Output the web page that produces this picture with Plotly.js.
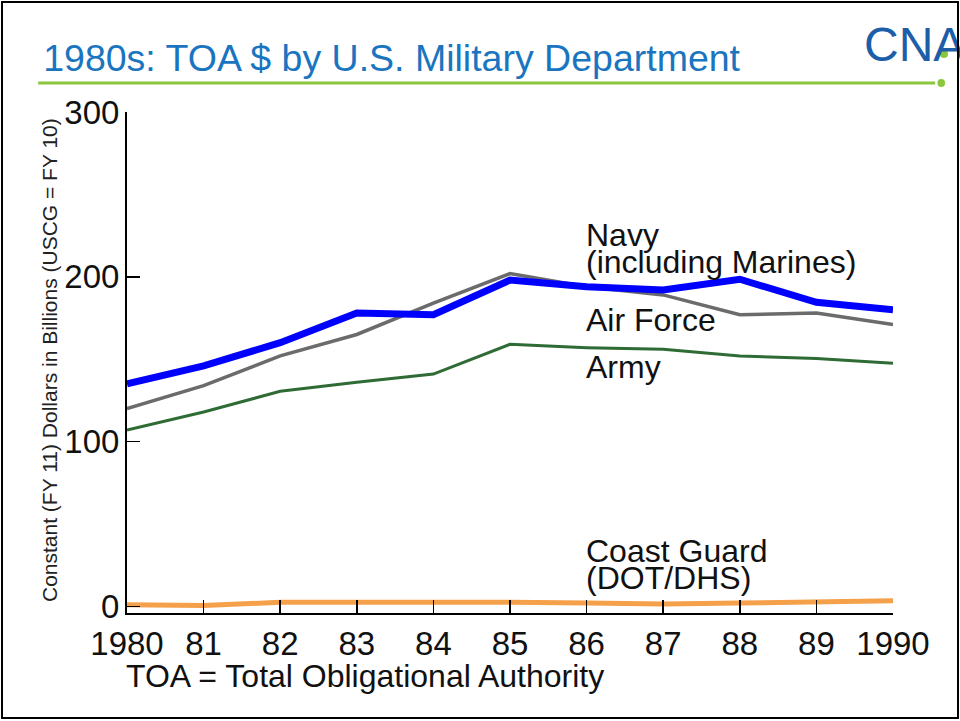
<!DOCTYPE html>
<html>
<head>
<meta charset="utf-8">
<script src="https://cdn.plot.ly/plotly-3.0.1.min.js"></script>
<style>
  body { margin: 0; background: #fff; }
  #chart { position: absolute; left: 0; top: 0; width: 960px; height: 721px; }
  #frame { position: absolute; left: 1px; top: 1px; width: 954px; height: 714px;
           border: 2px solid #000; pointer-events: none; }
</style>
</head>
<body>
<div id="chart"></div>
<div id="frame"></div>
<script>
// Chart data (constant FY11 $ billions)
var years = [1980, 1981, 1982, 1983, 1984, 1985, 1986, 1987, 1988, 1989, 1990];
var year_labels = ["1980", "81", "82", "83", "84", "85", "86", "87", "88", "89", "1990"];
var navy = [135, 146, 160, 178, 177, 198, 194, 192, 198.5, 184.5, 180];
var air_force = [120, 134, 152, 165, 184, 202, 194, 189, 177, 178, 171];
var army = [107, 118, 130.5, 136, 141, 159, 157, 156, 152, 150.5, 147.5];
var coast_guard = [1, 0.5, 2.5, 2.5, 3, 2.5, 2, 1.5, 2, 2.5, 3.5];

var font = "Liberation Sans, Arial, sans-serif";

var traces = [
  {x: years, y: coast_guard, mode: "lines", name: "Coast Guard", line: {color: "#f5a04a", width: 5}},
  {x: years, y: army, mode: "lines", name: "Army", line: {color: "#2f6b34", width: 3}},
  {x: years, y: air_force, mode: "lines", name: "Air Force", line: {color: "#6b6b6b", width: 3.5}},
  {x: years, y: navy, mode: "lines", name: "Navy", line: {color: "#0000ff", width: 7}}
];

// series labels sit right on the chart, two-line ones as two annotations (tight leading)
function label(text, x, y) {
  return {text: text, x: x, y: y, xref: "x", yref: "y", xanchor: "left", yanchor: "middle",
          xshift: -3, showarrow: false, font: {family: font, size: 32, color: "#111"}};
}

var layout = {
  width: 960,
  height: 721,
  autosize: false,
  margin: {l: 127, r: 67, t: 112, b: 108},
  paper_bgcolor: "#fff",
  plot_bgcolor: "#fff",
  showlegend: false,
  font: {family: font, color: "#111"},
  title: {
    text: "1980s: TOA $ by U.S. Military Department",
    font: {family: font, size: 37.5, color: "#1a75c1"},
    xref: "container", yref: "container",
    x: 0.045, xanchor: "left", y: 0.92, yanchor: "middle"
  },
  xaxis: {
    range: [1980, 1990],
    tickvals: years,
    ticktext: year_labels,
    ticks: "inside", ticklen: 13, tickwidth: 1.5, tickcolor: "#000",
    showline: true, linecolor: "#000", linewidth: 2,
    showgrid: false, zeroline: false,
    tickfont: {family: font, size: 33, color: "#111"},
    ticklabelstandoff: 0
  },
  yaxis: {
    range: [-4, 300],
    tickvals: [0, 100, 200, 300],
    ticks: "inside", ticklen: 13, tickwidth: 1.5, tickcolor: "#000",
    showline: true, linecolor: "#000", linewidth: 2,
    showgrid: false, zeroline: false,
    tickfont: {family: font, size: 33, color: "#111"},
    ticklabelstandoff: -1
  },
  annotations: [
    label("Navy", 1986, 225.5),
    label("(including Marines)", 1986, 209),
    label("Air Force", 1986, 174),
    label("Army", 1986, 145),
    label("Coast Guard", 1986, 33.7),
    label("(DOT/DHS)", 1986, 17.2),
    {text: "Constant (FY 11) Dollars in Billions (USCG = FY 10)", textangle: -90,
     xref: "paper", yref: "paper", x: -0.1005, y: 0.505, xanchor: "center", yanchor: "middle",
     showarrow: false, font: {family: font, size: 21, color: "#222"}},
    {text: "TOA = Total Obligational Authority",
     xref: "paper", yref: "paper", x: 0, y: -0.1257, xanchor: "left", yanchor: "middle",
     xshift: -3, showarrow: false, font: {family: font, size: 32, color: "#111"}},
    {text: "CNA", xref: "paper", yref: "paper", x: 0.9595, y: 1.135, xanchor: "left", yanchor: "middle",
     showarrow: false, font: {family: font, size: 48, color: "#1c5ea8"}}
  ],
  shapes: [
    // green rule under the title
    {type: "line", xref: "paper", yref: "paper", x0: -0.116, x1: 1.055, y0: 1.058, y1: 1.058,
     line: {color: "#8cc63f", width: 3}},
    {type: "circle", xref: "paper", yref: "paper", x0: 1.058, x1: 1.068, y0: 1.050, y1: 1.066,
     fillcolor: "#8cc63f", line: {width: 0}},
    // green dot inside the logo's A
    {type: "circle", xref: "paper", yref: "paper", x0: 1.0614, x1: 1.0718, y0: 1.108, y1: 1.124,
     fillcolor: "#8cc63f", line: {width: 0}}
  ]
};

Plotly.newPlot("chart", traces, layout, {displayModeBar: false, staticPlot: true});
</script>
</body>
</html>
